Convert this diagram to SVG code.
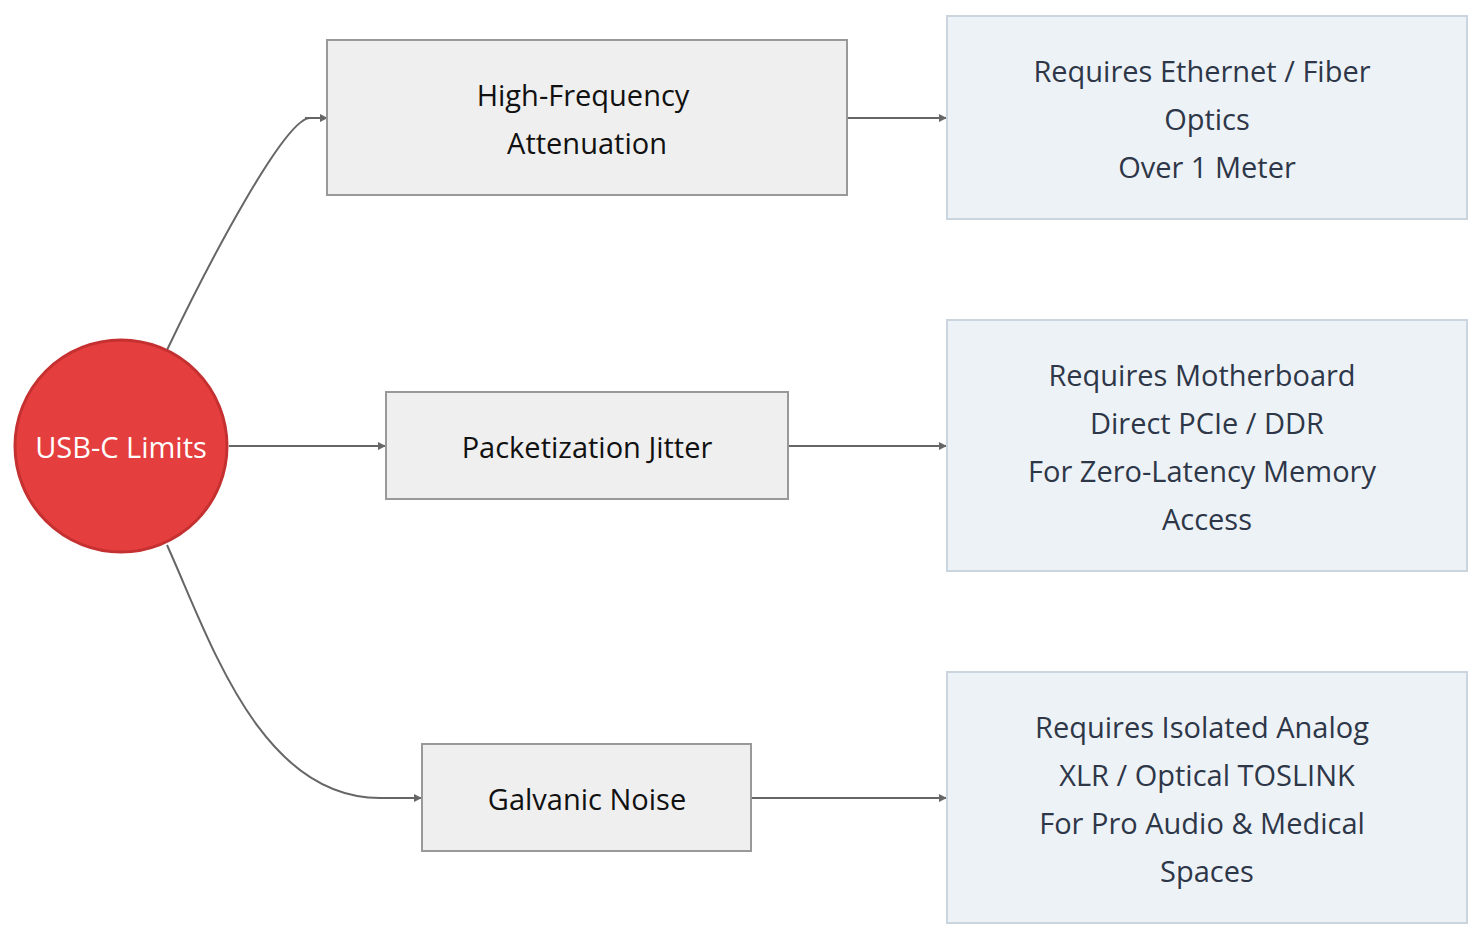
<svg xmlns="http://www.w3.org/2000/svg" width="1483" height="940" viewBox="0 0 1483 940">
<style>
text{font-family:"Open Sans","DejaVu Sans",sans-serif;font-size:29px;text-anchor:middle;dominant-baseline:central}
.g rect{fill:#efefef;stroke:#999;stroke-width:2}
.g text{fill:#111}
.b rect{fill:#edf2f7;stroke:#cbd5e0;stroke-width:2}
.b text{fill:#2d3748}
.e path{fill:none;stroke:#666;stroke-width:2;marker-end:url(#ar)}
</style>
<defs><marker id="ar" viewBox="0 0 10 10" refX="9" refY="5" markerWidth="8" markerHeight="8" markerUnits="userSpaceOnUse" orient="auto"><path d="M0,0L10,5L0,10z" fill="#666"/></marker></defs>
<rect width="1483" height="940" fill="#fff"/>
<g class="e">
<path d="M167,350C210,260 285,118 310,118H327" style="marker-end:none"/>
<path d="M305,118H327"/>
<path d="M229,446H385"/>
<path d="M167,545C210,640 260,798 380,798H421"/>
<path d="M848,118H946"/>
<path d="M789,446H946"/>
<path d="M752,798H946"/>
</g>
<g id="usb"><circle cx="121" cy="446" r="106" fill="#e53e3e" stroke="#c53030" stroke-width="3"/><text x="121" y="446" fill="#fff">USB-C Limits</text></g>
<g id="hf" class="g"><rect x="327" y="40" width="520" height="155"/><text x="583" y="94">High-Frequency</text><text x="587" y="142">Attenuation</text></g>
<g id="pj" class="g"><rect x="386" y="392" width="402" height="107"/><text x="587" y="446">Packetization Jitter</text></g>
<g id="gn" class="g"><rect x="422" y="744" width="329" height="107"/><text x="587" y="798">Galvanic Noise</text></g>
<g id="r1" class="b"><rect x="947" y="16" width="520" height="203"/><text x="1202" y="70">Requires Ethernet / Fiber</text><text x="1207" y="118">Optics</text><text x="1207" y="166">Over 1 Meter</text></g>
<g id="r2" class="b"><rect x="947" y="320" width="520" height="251"/><text x="1202" y="374">Requires Motherboard</text><text x="1207" y="422">Direct PCIe / DDR</text><text x="1202" y="470">For Zero-Latency Memory</text><text x="1207" y="518">Access</text></g>
<g id="r3" class="b"><rect x="947" y="672" width="520" height="251"/><text x="1202" y="726">Requires Isolated Analog</text><text x="1207" y="774">XLR / Optical TOSLINK</text><text x="1202" y="822">For Pro Audio &amp; Medical</text><text x="1207" y="870">Spaces</text></g>
</svg>
